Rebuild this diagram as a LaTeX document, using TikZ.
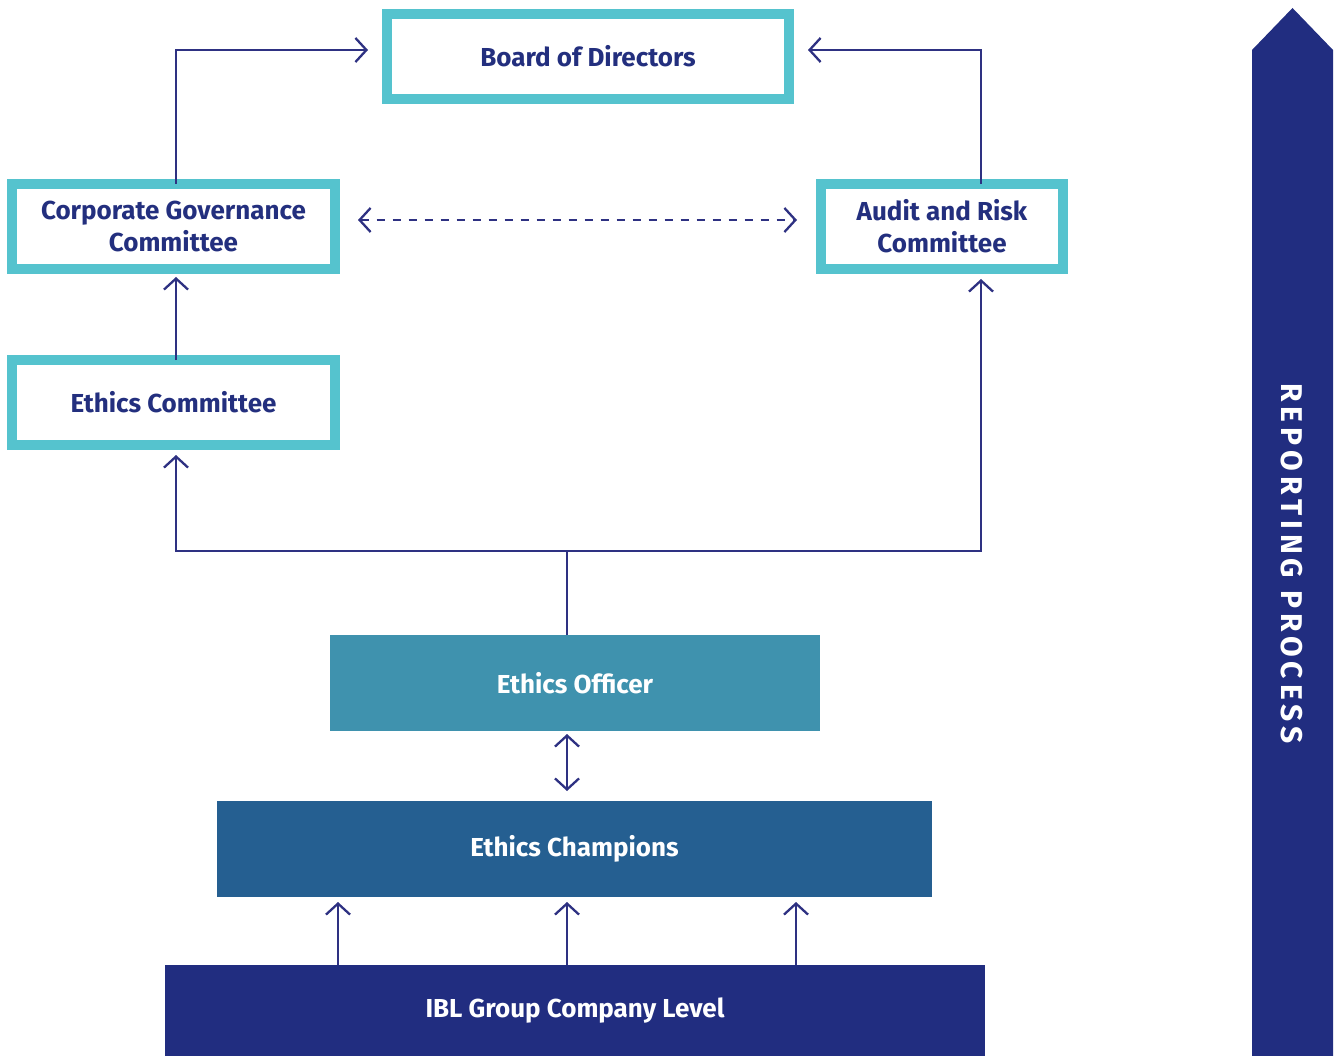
\documentclass[tikz,border=0pt]{standalone}
\usepackage{fontspec}
\setmainfont{Fira Sans}
\usetikzlibrary{arrows.meta}
\definecolor{teal}{HTML}{55C3CE}
\definecolor{navytext}{HTML}{232F7E}
\definecolor{officer}{HTML}{3F92AE}
\definecolor{champ}{HTML}{255F91}
\definecolor{ibl}{HTML}{212D80}
\definecolor{arrowc}{HTML}{2E3182}
\tikzset{
  framebox/.style={draw=teal, line width=10pt, fill=white, inner sep=0pt, outer sep=0pt,
    align=center, text=navytext, font=\fontsize{26}{32}\selectfont\bfseries, minimum height=85pt},
  fillbox/.style={inner sep=0pt, outer sep=0pt, text=white, font=\fontsize{26}{30}\selectfont\bfseries, minimum height=96pt},
  arr/.style={draw=arrowc, line width=2.3pt, -{Straight Barb[length=11pt,width=24pt,line width=2.3pt]}},
  dbl/.style={arr, {Straight Barb[length=11pt,width=24pt,line width=2.3pt]}-{Straight Barb[length=11pt,width=24pt,line width=2.3pt]}},
  plain/.style={draw=arrowc, line width=2.3pt}
}
\begin{document}
\begin{tikzpicture}[x=1pt,y=-1pt]
\useasboundingbox (0,0) rectangle (1337,1056);
% reporting arrow
\fill[ibl] (1252,1056) -- (1252,50) -- (1292.5,8) -- (1333,50) -- (1333,1056) -- cycle;
\node[rotate=-90, text=white, font=\fontsize{30}{34}\selectfont\bfseries\addfontfeature{LetterSpace=16.5}] (rp) at (1292,563.5) {REPORTING PROCESS};
% boxes
\node[framebox, minimum width=402pt] (board) at (588,56.5) {Board of Directors};
\node[framebox, minimum width=323pt] (cg) at (173.5,226.5) {Corporate Governance\\Committee};
\node[framebox, minimum width=242pt] (audit) at (942,226.5) {Audit and Risk\\Committee};
\node[framebox, minimum width=323pt] (ethics) at (173.5,402.5) {Ethics Committee};
\node[fillbox, fill=officer, minimum width=490pt] (officer) at (575,683) {Ethics Officer};
\node[fillbox, fill=champ, minimum width=715pt] (champ) at (574.5,849) {Ethics Champions};
\node[fillbox, fill=ibl, minimum width=820pt, minimum height=91pt] (ibl) at (575,1010.5) {IBL Group Company Level};
% connectors
\draw[arr, shorten >=19pt] ([xshift=2.5pt]cg.north) |- ([yshift=6.5pt]board.west);
\draw[arr, shorten >=19pt] ([xshift=39pt]audit.north) |- ([yshift=6.5pt]board.east);
\draw[dbl, dashed, dash pattern=on 8pt off 8pt, shorten <=23pt, shorten >=24pt] ([yshift=6.5pt]cg.east) -- ([yshift=6.5pt]audit.west);
\draw[arr, shorten >=8pt] ([xshift=2.5pt]ethics.north) -- ([xshift=2.5pt]cg.south);
\coordinate (j) at (567,551);
\draw[plain] ([xshift=-8pt]officer.north) -- (j);
\draw[arr, shorten >=10pt] (j) -| ([xshift=2.5pt]ethics.south);
\draw[arr, shorten >=10pt] (j) -| ([xshift=39pt]audit.south);
\draw[dbl, shorten <=3pt, shorten >=10pt] ([xshift=-8pt]officer.south) -- ([xshift=-7.5pt]champ.north);
\foreach \dx in {-237, -8, 221}{
  \draw[arr, shorten >=5pt] ([xshift=\dx pt]ibl.north) -- ([xshift=\dx pt+0.5pt]champ.south);
}
\end{tikzpicture}
\end{document}
